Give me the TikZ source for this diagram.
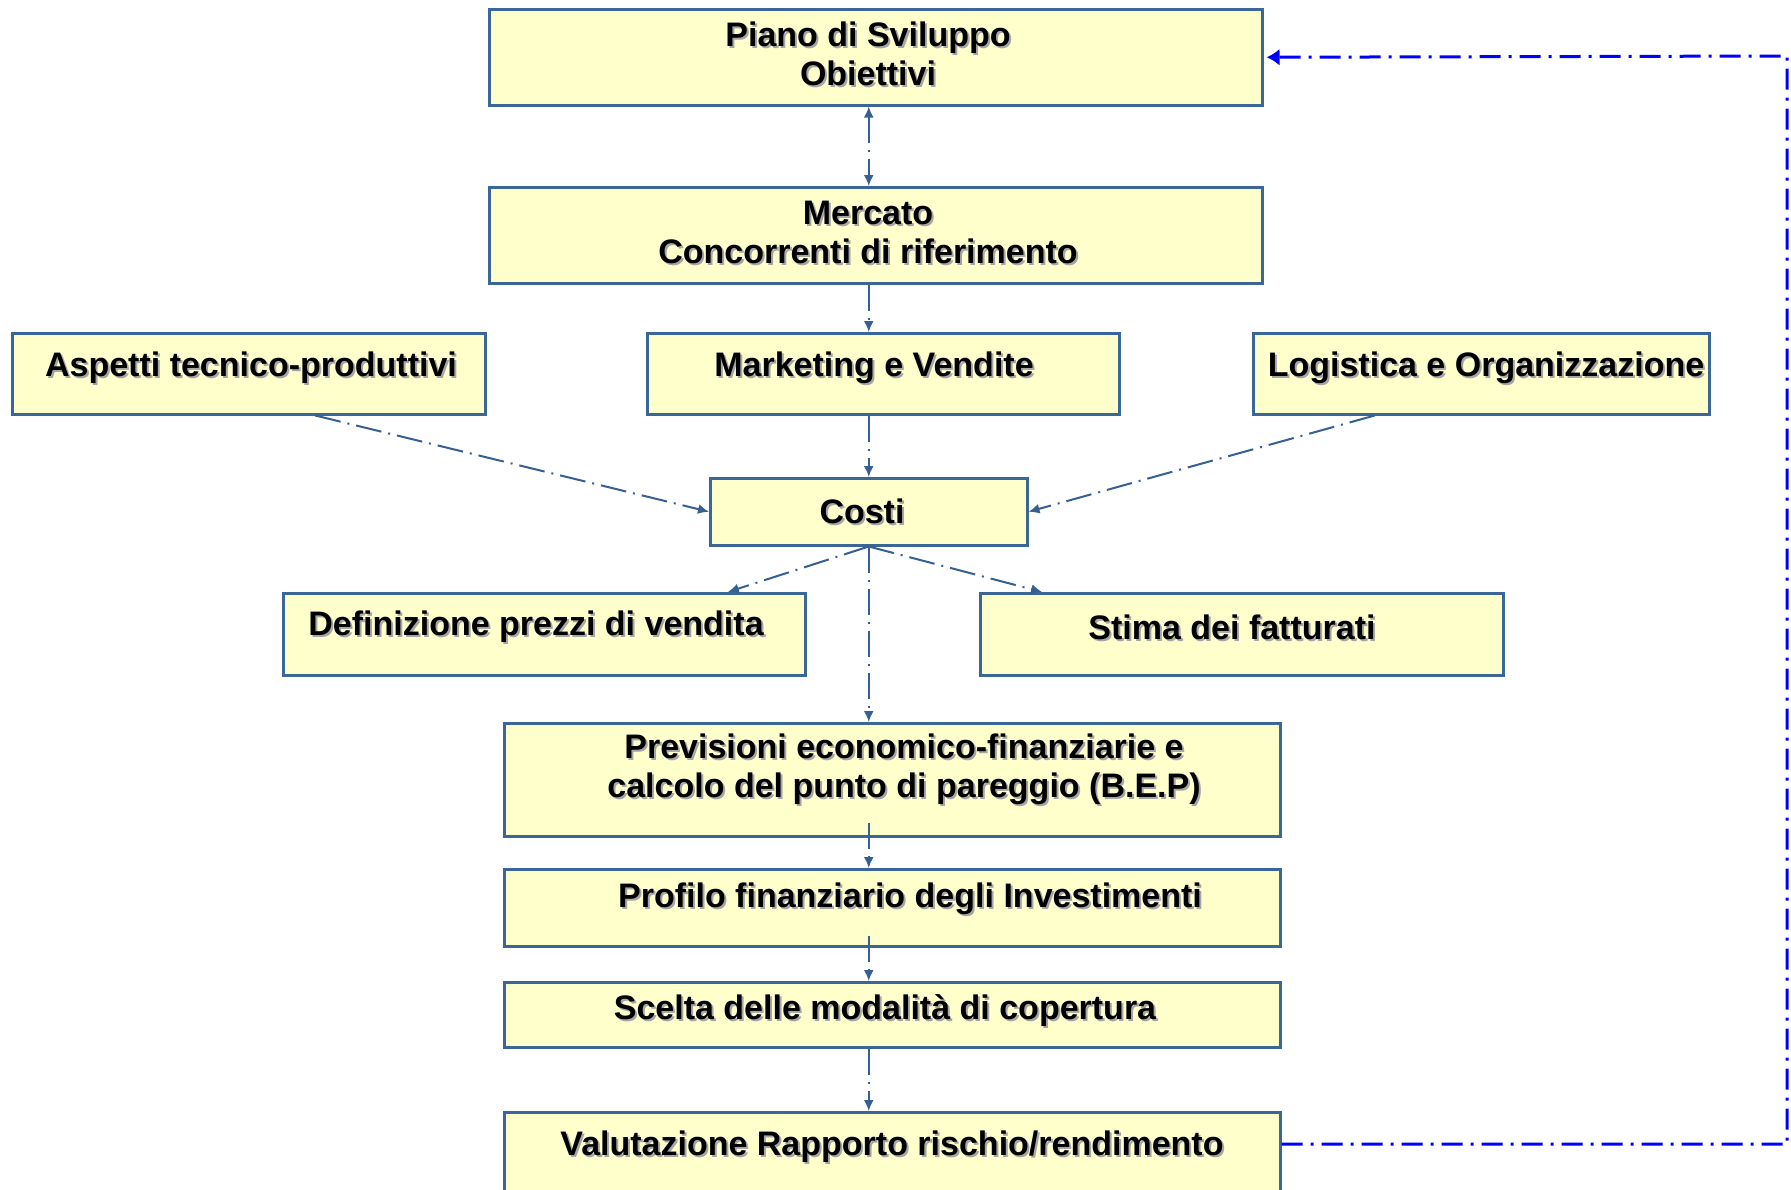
\documentclass[tikz,border=0pt]{standalone}
\usepackage{fontspec}
\setmainfont{Liberation Sans}
\usetikzlibrary{arrows.meta,calc}
\definecolor{boxfill}{RGB}{255,255,204}
\definecolor{boxline}{RGB}{58,102,152}
\definecolor{connc}{RGB}{54,96,146}
\definecolor{fbc}{RGB}{0,0,255}
\newcommand\shd[1]{\rlap{\kern2pt\raisebox{-2pt}{\color{black!35}#1}}#1}
\begin{document}
\begin{tikzpicture}[x=1pt,y=-1pt,
 box/.style={draw=boxline, fill=boxfill, line width=2.5pt, anchor=north west, inner sep=0pt},
 txt/.style={font=\bfseries\fontsize{34}{39}\selectfont, align=center, inner sep=0pt, text=black},
 conn/.style={draw=connc, line width=2pt, dash pattern=on 26pt off 7pt on 2pt off 7pt, -{Latex[length=11pt,width=10pt]}},
 conn2/.style={conn, {Latex[length=11pt,width=10pt]}-{Latex[length=11pt,width=10pt]}},
 fbline/.style={draw=fbc, line width=3pt, dash pattern=on 21pt off 8pt on 3pt off 8pt}]
\fill[white] (0,0) rectangle (1791,1189);
\useasboundingbox (0,0) rectangle (1791,1189);
% boxes
\node[box, minimum width=773pt, minimum height=96pt] (piano) at (488,8) {};
\node[box, minimum width=773pt, minimum height=96pt] (mercato) at (488,186) {};
\node[box, minimum width=473pt, minimum height=81pt] (aspetti) at (11,332) {};
\node[box, minimum width=472pt, minimum height=81pt] (marketing) at (646,332) {};
\node[box, minimum width=456pt, minimum height=81pt] (logistica) at (1252,332) {};
\node[box, minimum width=317pt, minimum height=67pt] (costi) at (709,477) {};
\node[box, minimum width=522pt, minimum height=82pt] (def) at (282,592) {};
\node[box, minimum width=523pt, minimum height=82pt] (stima) at (979,592) {};
\node[box, minimum width=776pt, minimum height=113pt] (prev) at (503,722) {};
\node[box, minimum width=776pt, minimum height=77pt] (prof) at (503,868) {};
\node[box, minimum width=776pt, minimum height=65pt] (scelta) at (503,981) {};
\node[box, minimum width=776pt, minimum height=125pt] (valut) at (503,1111) {};
% texts
\node[txt] (tpiano) at (868,55) {\shd{Piano di Sviluppo}\\\shd{Obiettivi}};
\node[txt] (tmercato) at (868,233) {\shd{Mercato}\\\shd{Concorrenti di riferimento}};
\node[txt] (taspetti) at (251,369) {\shd{Aspetti tecnico-produttivi}};
\node[txt] (tmarketing) at (874,369) {\shd{Marketing e Vendite}};
\node[txt] (tlogistica) at (1486,369) {\shd{Logistica e Organizzazione}};
\node[txt] (tcosti) at (862,512) {\shd{Costi}};
\node[txt] (tdef) at (536,628) {\shd{Definizione prezzi di vendita}};
\node[txt] (tstima) at (1232,628) {\shd{Stima dei fatturati}};
\node[txt] (tprev) at (904,770) {\shd{Previsioni economico-finanziarie e}\\\shd{calcolo del punto di pareggio (B.E.P)}};
\node[txt] (tprof) at (910,900) {\shd{Profilo finanziario degli Investimenti}};
\node[txt] (tscelta) at (885,1012) {\shd{Scelta delle modalità di copertura}};
\node[txt] (tvalut) at (892,1148) {\shd{Valutazione Rapporto rischio/rendimento}};
% connectors
\draw[conn2] (piano.south -| costi.center) -- (mercato.north -| costi.center);
\draw[conn] (mercato.south -| costi.center) -- (marketing.north -| costi.center);
\draw[conn] (marketing.south -| costi.center) -- (costi.north);
\draw[conn] ($(aspetti.south west)!0.64!(aspetti.south east)$) -- (costi.west);
\draw[conn] ($(logistica.south west)!0.2675!(logistica.south east)$) -- (costi.east);
\draw[conn] (costi.south) -- ($(def.north west)!0.85!(def.north east)$);
\draw[conn] (costi.south) -- ($(stima.north west)!0.12!(stima.north east)$);
\draw[conn] (costi.south) -- (prev.north -| costi.center);
\draw[conn] ($(prev.south -| costi.center)+(0,-15)$) -- (prof.north -| costi.center);
\draw[conn] ($(prof.south -| costi.center)+(0,-12)$) -- (scelta.north -| costi.center);
\draw[conn] (scelta.south -| costi.center) -- (valut.north -| costi.center);
% feedback
\coordinate (fbB) at ($(valut.north east)+(0,33)$);
\coordinate (fbR) at (1787,1144);
\coordinate (fbT) at (1787,56);
\draw[fbline, -{Latex[length=13pt,width=17pt]}, shorten >=3pt] (fbB) -- (fbR) -- (fbT) -- (piano.east);
\end{tikzpicture}
\end{document}
